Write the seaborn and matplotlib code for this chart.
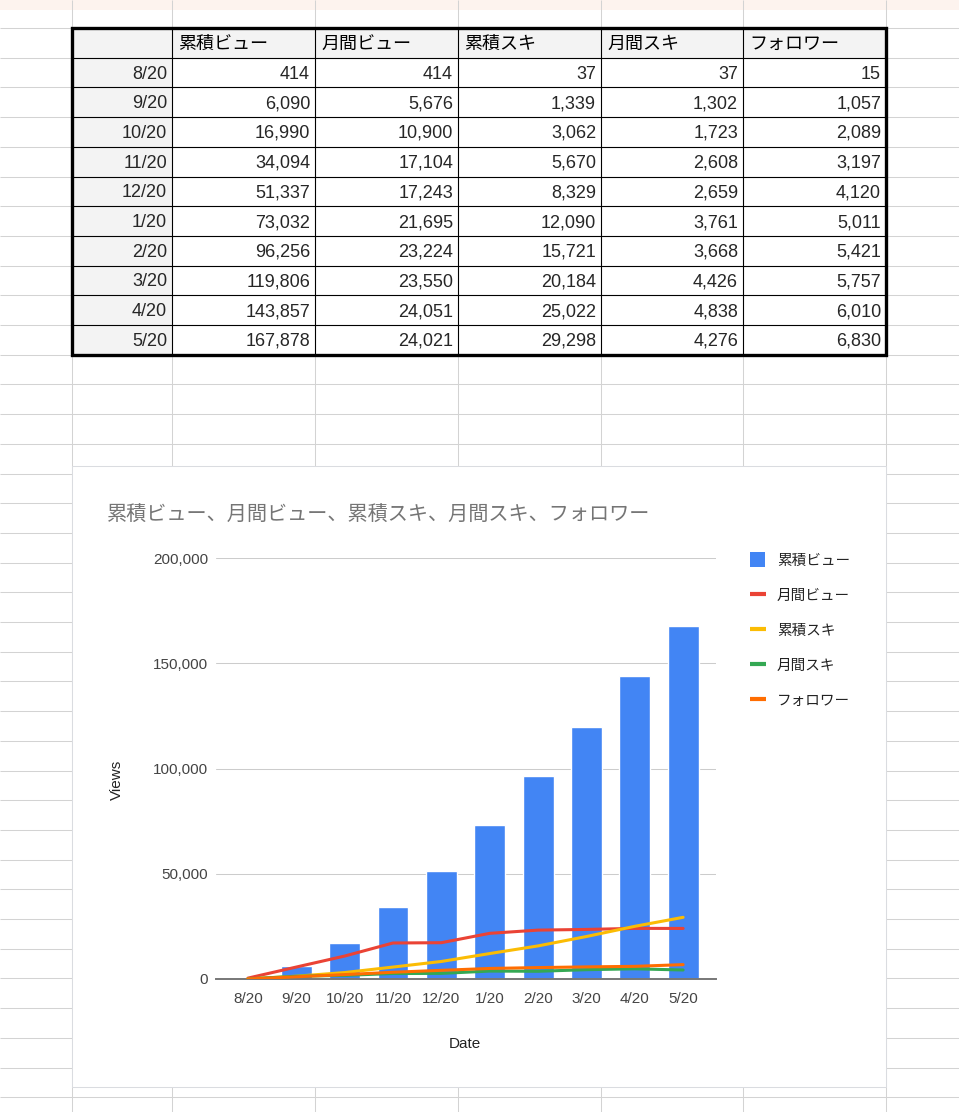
import numpy as np
import pandas as pd
import matplotlib
matplotlib.use('Agg')
import matplotlib.pyplot as plt
from matplotlib.patches import Rectangle
from matplotlib.ticker import FuncFormatter
import seaborn as sns

# data
dates = ['8/20', '9/20', '10/20', '11/20', '12/20',
         '1/20', '2/20', '3/20', '4/20', '5/20']
series_names = ['累積ビュー', '月間ビュー', '累積スキ', '月間スキ', 'フォロワー']
cum_views = [414, 6090, 16990, 34094, 51337, 73032, 96256, 119806, 143857, 167878]
monthly_views = [414, 5676, 10900, 17104, 17243, 21695, 23224, 23550, 24051, 24021]
cum_suki = [37, 1339, 3062, 5670, 8329, 12090, 15721, 20184, 25022, 29298]
monthly_suki = [37, 1302, 1723, 2608, 2659, 3761, 3668, 4426, 4838, 4276]
followers = [15, 1057, 2089, 3197, 4120, 5011, 5421, 5757, 6010, 6830]
series_colors = ['#4285F4', '#EA4335', '#FBBC04', '#34A853', '#FF6D01']
chart_title = '累積ビュー、月間ビュー、累積スキ、月間スキ、フォロワー'
y_ticks = [0, 50000, 100000, 150000, 200000]

df = pd.DataFrame({'Date': dates,
                   series_names[0]: cum_views,
                   series_names[1]: monthly_views,
                   series_names[2]: cum_suki,
                   series_names[3]: monthly_suki,
                   series_names[4]: followers})

# sheet layout (pixels)
W, H = 959, 1112
col_x = [72, 172, 315, 458, 601, 743, 886]
row_h = 29.7
table_top = 28
n_rows = len(dates) + 1
table_bottom = table_top + row_h * n_rows

sns.set_style('white')
plt.rcParams['font.family'] = ['Liberation Sans', 'Noto Sans CJK JP', 'DejaVu Sans']

fig = plt.figure(figsize=(W / 100, H / 100), dpi=100)
bg = fig.add_axes([0, 0, 1, 1])
bg.set_xlim(0, W)
bg.set_ylim(H, 0)
bg.axis('off')

# spreadsheet background
bg.add_patch(Rectangle((0, 0), W, 10, color='#fdf3ee', lw=0, zorder=0))
grid_c = '#d3d3d3'
bg.hlines(np.arange(table_top, H, row_h), 0, W, color=grid_c, lw=0.75, zorder=1)
bg.vlines(col_x, 0, H, color=grid_c, lw=0.75, zorder=1)

# table
bg.add_patch(Rectangle((col_x[0], table_top), col_x[-1] - col_x[0], row_h,
                       color='#f3f3f3', lw=0, zorder=2))
bg.add_patch(Rectangle((col_x[0], table_top), col_x[1] - col_x[0],
                       table_bottom - table_top, color='#f3f3f3', lw=0, zorder=2))
bg.hlines([table_top + row_h * k for k in range(1, n_rows)],
          col_x[0], col_x[-1], color='black', lw=0.8, zorder=3)
bg.vlines(col_x[1:-1], table_top, table_bottom, color='black', lw=0.8, zorder=3)
bg.add_patch(Rectangle((col_x[0], table_top), col_x[-1] - col_x[0],
                       table_bottom - table_top, fill=False, ec='black',
                       lw=2.4, zorder=4))

for j, name in enumerate(series_names):
    bg.text(col_x[j + 1] + 6, table_top + row_h / 2 + 1.5, name, fontsize=13,
            ha='left', va='center', color='black', zorder=5)
for i, row in df.iterrows():
    yc = table_top + row_h * (i + 1.5) + 1.5
    bg.text(col_x[1] - 5, yc, row['Date'], fontsize=13, ha='right',
            va='center', zorder=5)
    for j, name in enumerate(series_names):
        bg.text(col_x[j + 2] - 5, yc, f'{row[name]:,}', fontsize=13,
                ha='right', va='center', zorder=5)

# chart card
bg.add_patch(Rectangle((72, 466), 814, 621, fc='white', ec='#dadce0',
                       lw=0.75, zorder=6))
bg.text(107, 515, chart_title, fontsize=14.5, color='#757575',
        ha='left', va='center', zorder=7)

# legend
for k, (name, c) in enumerate(zip(series_names, series_colors)):
    ly = 559 + 35 * k
    if k == 0:
        bg.add_patch(Rectangle((750, ly - 7.5), 15, 15, color=c, lw=0, zorder=7))
    else:
        bg.plot([750, 766], [ly, ly], color=c, lw=3, solid_capstyle='butt',
                zorder=7)
    bg.text(777, ly + 1.5, name, fontsize=10.5, color='#222222',
            ha='left', va='center', zorder=7)

# chart
ax = fig.add_axes([216 / W, 1 - 979 / H, 500 / W, 421 / H])
ax.patch.set_alpha(0)
sns.barplot(data=df, x='Date', y=series_names[0], color=series_colors[0],
            saturation=1, width=0.64, ax=ax, zorder=2)
idx = np.arange(len(dates))
for name, c in zip(series_names[1:], series_colors[1:]):
    sns.lineplot(x=idx, y=df[name].values, color=c, lw=2.2, ax=ax,
                 legend=False, zorder=3)

ax.set_xlim(-0.66, 9.68)
ax.set_ylim(0, 200000)
ax.set_yticks(y_ticks)
ax.yaxis.set_major_formatter(FuncFormatter(lambda v, p: f'{v:,.0f}'))
ax.set_xticks(idx)
ax.set_xticklabels(dates)
ax.grid(axis='y', color='#cccccc', lw=0.75)
ax.grid(axis='x', visible=False)
ax.set_axisbelow(True)
for s in ['top', 'right', 'left']:
    ax.spines[s].set_visible(False)
ax.spines['bottom'].set_color('#777777')
ax.spines['bottom'].set_linewidth(1.4)
ax.tick_params(axis='both', length=0, labelsize=11, labelcolor='#444444')
ax.tick_params(axis='x', pad=9.5)
ax.tick_params(axis='y', pad=5.8)
ax.set_xlabel('Date', fontsize=11, color='#222222')
ax.set_ylabel('Views', fontsize=11, color='#222222')
ax.xaxis.set_label_coords(0.498, -0.138)
ax.yaxis.set_label_coords(-0.184, 0.473)

fig.savefig('out.png', dpi=100)
